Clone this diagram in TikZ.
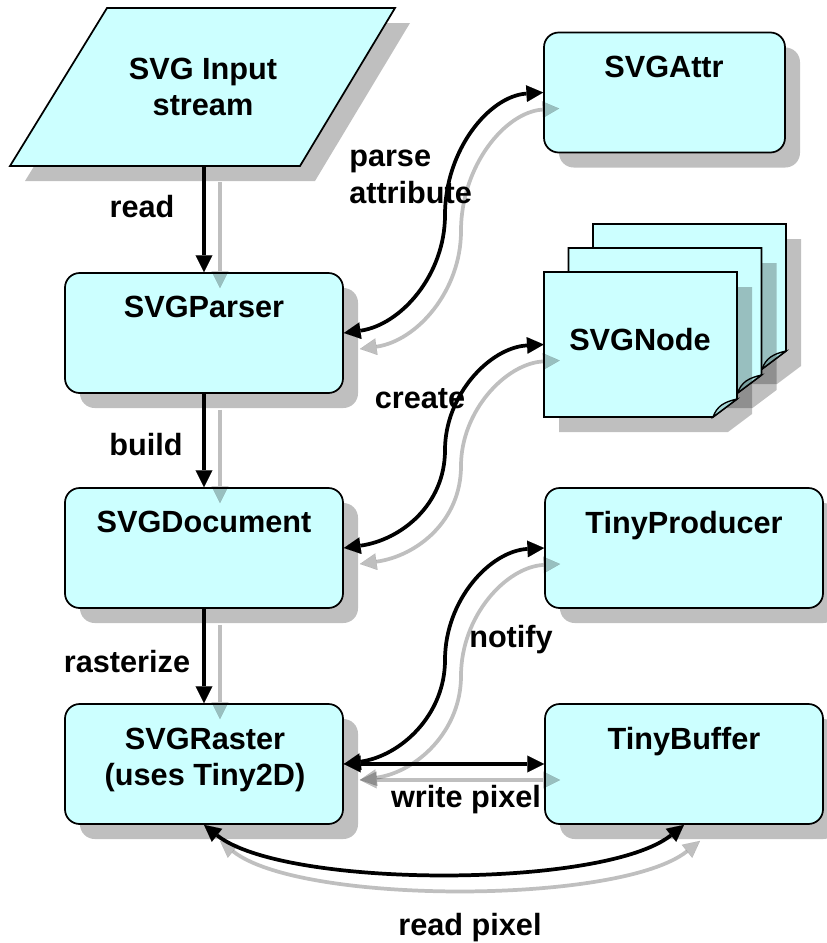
\documentclass[tikz,border=0pt]{standalone}
\usepackage{fontspec}
\setmainfont{Liberation Sans}
\usetikzlibrary{arrows.meta,shadows}
\definecolor{boxfill}{RGB}{204,255,255}
\definecolor{flapfill}{RGB}{165,215,215}
\newcommand\papersheet[2]{%
  \filldraw[sheetline,shade] (#1,#2) -- (#1+193,#2) -- (#1+193,#2+127) -- (#1+169,#2+145) -- (#1,#2+145) -- cycle;
  \filldraw[draw=black,line width=1pt,fill=flapfill] (#1+169,#2+145) .. controls (#1+173,#2+134) and (#1+180,#2+130) .. (#1+193,#2+127) -- cycle;
}
\newcommand\conn[2]{%
  \draw[ghost,#1,transform canvas={shift={(16,16)}}] #2;
  \draw[mainline,#1] #2;
}
\begin{document}
\begin{tikzpicture}[x=0.75pt,y=-0.75pt,
  font=\fontsize{23}{27.5}\selectfont\bfseries,
  >={Triangle[length=12.5pt,width=12.5pt,line width=0.01pt]},
  shade/.style={drop shadow={shadow xshift=11.25pt,shadow yshift=-11.25pt,fill=black,opacity=0.25}},
  sheetline/.style={draw=black,line width=1.3pt,fill=boxfill},
  box/.style={draw=black,line width=1.3pt,fill=boxfill,rounded corners=11pt,shade,
    minimum width=208.5pt,minimum height=90pt,inner sep=0pt},
  txt/.style={anchor=base,inner sep=0pt},
  ghost/.style={draw=black,opacity=0.25,line width=2.8pt},
  mainline/.style={draw=black,line width=2.8pt}]
\useasboundingbox (0,0) rectangle (827,943);

% input stream
\filldraw[sheetline,shade] (107,8) -- (395,8) -- (300,166) -- (10,166) -- cycle;
\node[txt,anchor=center,align=center] (input) at (203,87) {SVG Input\\stream};
\coordinate (inS) at (204,166);

% boxes
\node[box] (parser) at (204,333) {};
\node[box] (document) at (204,548) {};
\node[box] (raster) at (204,764) {};
\node[box,minimum width=180.75pt] (attr) at (664.5,92.5) {};
\node[box] (producer) at (684,548) {};
\node[box] (buffer) at (684,764) {};

% SVGNode stack
\papersheet{593}{224}
\papersheet{568.5}{248}
\papersheet{544}{272}
\node[minimum width=144.75pt,minimum height=108.75pt,inner sep=0pt] (snode) at (640.5,344.5) {};

% box texts
\node[txt] (tparser) at (204,317) {SVGParser};
\node[txt] (tdoc) at (204,532) {SVGDocument};
\node[txt,anchor=center,align=center] (traster) at (205,760) {SVGRaster\\(uses Tiny2D)};
\node[txt] (tattr) at (664,77) {SVGAttr};
\node[txt] (tprod) at (684,533) {TinyProducer};
\node[txt] (tbuf) at (684,749) {TinyBuffer};
\node[txt] (tnode) at (640,350) {SVGNode};

% labels
\node[txt] (lread) at (142,217) {read};
\node[txt] (lbuild) at (146,455) {build};
\node[txt] (lraster) at (127,672) {rasterize};
\node[txt,anchor=base west,align=left] (lparse) at (349,203) {parse\\attribute};
\node[txt] (lcreate) at (420,408) {create};
\node[txt] (lnotify) at (511,647) {notify};
\node[txt] (lwrite) at (466,807) {write pixel};
\node[txt] (lreadp) at (470,935) {read pixel};

% bend points
\coordinate (pa) at (445,215);
\coordinate (pb) at (445,450);
\coordinate (pc) at (445,660);

% connectors
\conn{->}{(inS) -- (parser.north)}
\conn{->}{(parser.south) -- (document.north)}
\conn{->}{(document.south) -- (raster.north)}
\conn{<->}{(parser.east) .. controls +(57,-8) and +(0,60) .. (pa) .. controls +(0,-65) and +(-54,3.5) .. (attr.west)}
\conn{<->}{(document.east) .. controls +(57,-8) and +(0,55) .. (pb) .. controls +(0,-55) and +(-54,3) .. (snode.west)}
\conn{<->}{(raster.east) .. controls +(57,-8) and +(0,55) .. (pc) .. controls +(0,-60) and +(-54,3) .. (producer.west)}
\conn{<->}{(raster.east) -- (buffer.west)}
\conn{<->}{(raster.south) .. controls +(80,64) and +(-80,64) .. (buffer.south)}
\end{tikzpicture}
\end{document}
